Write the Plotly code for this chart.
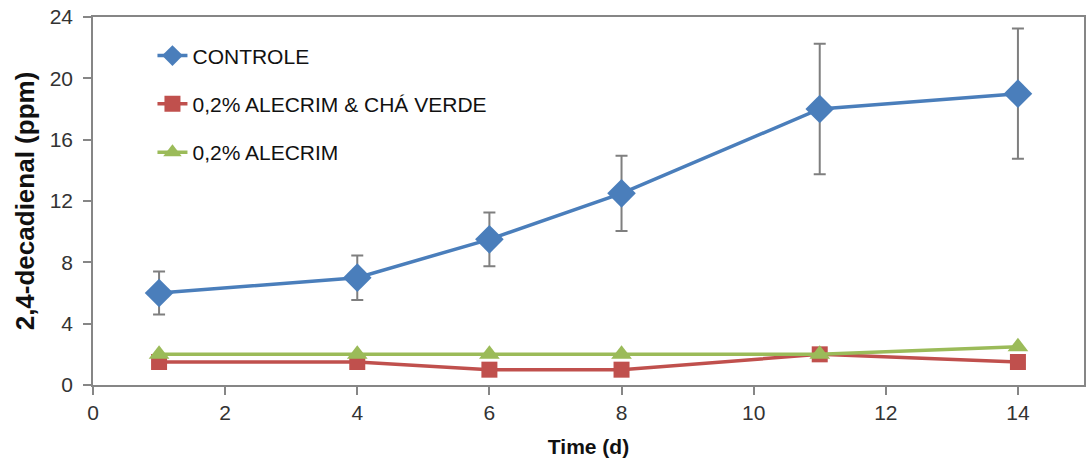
import plotly.graph_objects as go

days = [1, 4, 6, 8, 11, 14]
controle = [6.0, 7.0, 9.5, 12.5, 18.0, 19.0]
controle_err = [1.4, 1.45, 1.75, 2.45, 4.25, 4.25]
alecrim_cha = [1.5, 1.5, 1.0, 1.0, 2.0, 1.5]
alecrim = [2.0, 2.0, 2.0, 2.0, 2.0, 2.5]
alecrim_err = [0, 0, 0, 0, 0, 0.15]

names = ["CONTROLE", "0,2% ALECRIM & CHÁ VERDE", "0,2% ALECRIM"]
x_ticks = [0, 2, 4, 6, 8, 10, 12, 14]
y_ticks = [0, 4, 8, 12, 16, 20, 24]

fig = go.Figure()
fig.add_trace(go.Scatter(
    x=days, y=controle, name=names[0], legendgroup="a",
    mode="lines+markers",
    line=dict(color="#4A7EBB", width=3.5),
    marker=dict(symbol="diamond", size=22, color="#4A7EBB"),
    error_y=dict(type="data", array=controle_err, visible=True,
                 color="#7F7F7F", thickness=2, width=6),
))
fig.add_trace(go.Scatter(
    x=days, y=alecrim_cha, name=names[1], legendgroup="b",
    mode="lines+markers",
    line=dict(color="#C0504D", width=3.5),
    marker=dict(symbol="square", size=16, color="#C0504D"),
))
fig.add_trace(go.Scatter(
    x=days, y=alecrim, name=names[2], legendgroup="c",
    mode="lines+markers",
    line=dict(color="#9BBB59", width=3.5),
    marker=dict(symbol="triangle-up", size=18, color="#9BBB59"),
    error_y=dict(type="data", array=alecrim_err, visible=True,
                 color="#7F7F7F", thickness=1.5, width=4),
))

fig.update_layout(
    width=1086, height=469,
    margin=dict(l=93, r=2, t=17, b=84),
    paper_bgcolor="white", plot_bgcolor="white",
    font=dict(family="Liberation Sans, Arial, sans-serif", color="#222222", size=20),
    legend=dict(x=0.06, y=0.95, xanchor="left", yanchor="top",
                font=dict(size=21, color="#111111"),
                bgcolor="rgba(0,0,0,0)", tracegroupgap=18,
                traceorder="grouped"),
    showlegend=True,
)
fig.update_xaxes(
    range=[0, 15], tickvals=x_ticks, ticktext=[str(v) for v in x_ticks],
    automargin=False, ticklabeloverflow="allow",
    showgrid=False, zeroline=False,
    showline=True, linecolor="#868686", linewidth=1.5, mirror=True,
    ticks="outside", ticklen=8, tickcolor="#868686", tickwidth=1.5,
    tickfont=dict(size=21, color="#333333"),
    title=dict(text="<b>Time (d)</b>", font=dict(size=21, color="#111111"), standoff=16),
)
fig.update_yaxes(
    range=[0, 24], tickvals=y_ticks, ticktext=[str(v) for v in y_ticks],
    automargin=False, ticklabeloverflow="allow",
    showgrid=False, zeroline=False,
    showline=True, linecolor="#868686", linewidth=1.5, mirror=True,
    ticks="outside", ticklen=8, tickcolor="#868686", tickwidth=1.5,
    ticklabelstandoff=6,
    tickfont=dict(size=21, color="#333333"),
    title=dict(text="<b>2,4-decadienal (ppm)</b>", font=dict(size=26, color="#111111"), standoff=8),
)

# remove the browser's default 8px body margin so the figure fills the window
fig.write_html("out.html", config={"displayModeBar": False},
               post_script="document.body.style.margin='0';")
